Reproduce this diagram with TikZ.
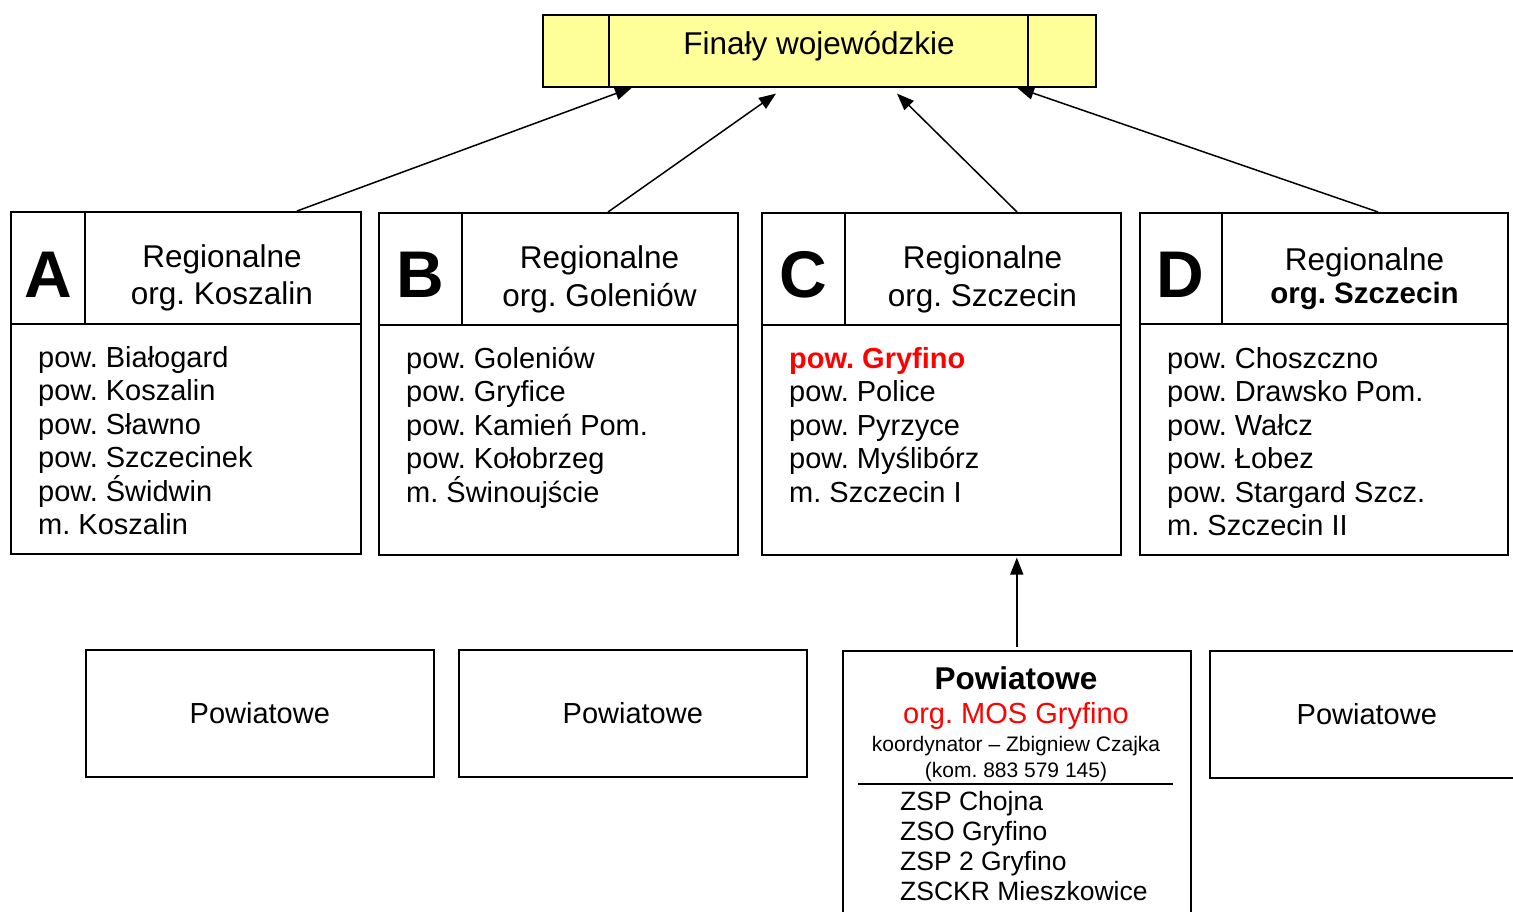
\documentclass[tikz,border=0pt]{standalone}
\usepackage{fontspec}
\setmainfont{Liberation Sans}
\usetikzlibrary{arrows.meta,calc}
\definecolor{finfill}{HTML}{FFFF99}
\definecolor{redtxt}{HTML}{FF0000}
\frenchspacing
\begin{document}
\begin{tikzpicture}[x=1pt,y=-1pt,
  box/.style={draw, line width=1.6pt, inner sep=0pt, anchor=north west},
  rule/.style={line width=1.6pt},
  txt/.style={inner sep=0pt, anchor=base west, font=\fontsize{29}{34}\selectfont},
  hdr/.style={inner sep=0pt, anchor=base, font=\fontsize{31.5}{38}\selectfont},
  big/.style={inner sep=0pt, anchor=base, font=\fontsize{66}{70}\selectfont\bfseries},
  small/.style={inner sep=0pt, anchor=base, font=\fontsize{21}{25}\selectfont},
  zsp/.style={inner sep=0pt, anchor=base west, font=\fontsize{26.5}{30}\selectfont},
  arr/.style={line width=1.5pt, -{Triangle[length=17pt,width=13pt]}}]
\clip (0,0) rectangle (1513,912);
\fill[white] (0,0) rectangle (1513,912);
% top box
\node[box, fill=finfill, minimum width=553pt, minimum height=72pt] (fin) at (542,14) {};
\draw[rule] (609,14) -- (609,86);
\draw[rule] (1028,14) -- (1028,86);
\node[hdr] (fint) at (819,55) {Finały wojewódzkie};
% box A
\node[box, minimum width=350pt, minimum height=342pt] (A) at (10,211) {};
\draw[rule] (10,324) -- (360,324);
\draw[rule] (85,211) -- (85,324);
\node[big] (Al) at (48,297) {A};
\node[hdr] (Ah1) at (222,268) {Regionalne};
\node[hdr] (Ah2) at (222,305) {org. Koszalin};
\foreach \t [count=\i] in {pow. Białogard, pow. Koszalin, pow. Sławno, pow. Szczecinek, pow. Świdwin, m. Koszalin}
  \node[txt] (A\i) at (38,{367+33.5*(\i-1)}) {\t};
% box B
\node[box, minimum width=359pt, minimum height=342pt] (B) at (378,212) {};
\draw[rule] (378,325) -- (737,325);
\draw[rule] (462,212) -- (462,325);
\node[big] (Bl) at (420,298) {B};
\node[hdr] (Bh1) at (599.5,269) {Regionalne};
\node[hdr] (Bh2) at (599.5,306) {org. Goleniów};
\foreach \t [count=\i] in {pow. Goleniów, pow. Gryfice, pow. Kamień Pom., pow. Kołobrzeg, m. Świnoujście}
  \node[txt] (B\i) at (406,{368+33.6*(\i-1)}) {\t};
% box C
\node[box, minimum width=359pt, minimum height=342pt] (C) at (761,212) {};
\draw[rule] (761,325) -- (1120,325);
\draw[rule] (845,212) -- (845,325);
\node[big] (Cl) at (803,298) {C};
\node[hdr] (Ch1) at (982.5,269) {Regionalne};
\node[hdr] (Ch2) at (982.5,306) {org. Szczecin};
\node[txt, text=redtxt, font=\fontsize{29}{34}\selectfont\bfseries] (C1) at (789,368) {pow. Gryfino};
\foreach \t [count=\i from 2] in {pow. Police, pow. Pyrzyce, pow. Myślibórz, m. Szczecin I}
  \node[txt] (C\i) at (789,{368+33.6*(\i-1)}) {\t};
% box D
\node[box, minimum width=368pt, minimum height=342pt] (D) at (1139,212) {};
\draw[rule] (1139,324) -- (1507,324);
\draw[rule] (1222,212) -- (1222,324);
\node[big] (Dl) at (1180,298) {D};
\node[hdr] (Dh1) at (1364.5,270) {Regionalne};
\node[hdr, font=\fontsize{29.5}{36}\selectfont\bfseries] (Dh2) at (1364.5,303) {org. Szczecin};
\foreach \t [count=\i] in {pow. Choszczno, pow. Drawsko Pom., pow. Wałcz, pow. Łobez, pow. Stargard Szcz., m. Szczecin II}
  \node[txt] (D\i) at (1167,{368+33.5*(\i-1)}) {\t};
% bottom boxes
\node[box, minimum width=348pt, minimum height=127pt, font=\fontsize{29}{34}\selectfont] (P1) at (85,649) {Powiatowe};
\node[box, minimum width=348pt, minimum height=127pt, font=\fontsize{29}{34}\selectfont] (P2) at (458,649) {Powiatowe};
\node[box, minimum width=314pt, minimum height=127pt, font=\fontsize{29}{34}\selectfont] (P4) at (1209,650) {Powiatowe};
\node[box, minimum width=348pt, minimum height=300pt] (P3) at (842,650) {};
\node[hdr, font=\fontsize{31.5}{38}\selectfont\bfseries] (P3a) at (1016,689) {Powiatowe};
\node[hdr, font=\fontsize{29}{34}\selectfont, text=redtxt] (P3b) at (1016,723) {org. MOS Gryfino};
\node[small] (P3c) at (1016,751) {koordynator – Zbigniew Czajka};
\node[small] (P3d) at (1016,777) {(kom. 883 579 145)};
\draw[line width=1.5pt] (858,784) -- (1173,784);
\foreach \t [count=\i] in {ZSP Chojna, ZSO Gryfino, ZSP 2 Gryfino, ZSCKR Mieszkowice}
  \node[zsp] (Z\i) at (900,{810+30*(\i-1)}) {\t};
% arrows
\draw[arr] ([xshift=287pt]A.north west) -- ([xshift=90pt]fin.south west);
\draw[arr] ([xshift=230pt]B.north west) -- ([xshift=234pt,yshift=-6pt]fin.south west);
\draw[arr] ([xshift=256pt]C.north west) -- ([xshift=355pt,yshift=-6pt]fin.south west);
\draw[arr] ([xshift=239pt]D.north west) -- ([xshift=475pt]fin.south west);
\draw[arr] ([yshift=3pt]P3.north) -- ([yshift=-2pt]P3.north |- C.south);
\end{tikzpicture}
\end{document}
